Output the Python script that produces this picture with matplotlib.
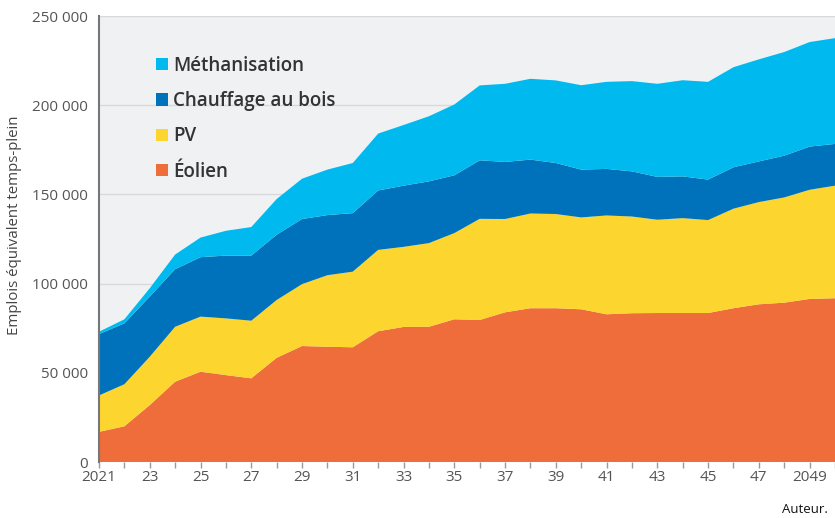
import numpy as np
import matplotlib
matplotlib.use("Agg")
from matplotlib import pyplot as plt
from matplotlib.patches import Patch

# années
years = list(range(2021, 2051))

# emplois par filière (ETP)
eolien = [16900, 20000, 31900, 45000, 50600, 48700, 46900, 58400, 65000, 64600,
          64300, 73300, 75700, 75800, 80000, 79600, 83900, 86200, 86200, 85600,
          82800, 83400, 83500, 83500, 83500, 86200, 88400, 89300, 91400, 91800]
pv = [20400, 23600, 27100, 30800, 30900, 31800, 32300, 32400, 34700, 40100,
      42400, 45600, 44900, 46900, 48300, 56700, 52300, 53100, 52800, 51500,
      55400, 54200, 52300, 53200, 52100, 55800, 57300, 59000, 61200, 63100]
chauffage = [34400, 34100, 33700, 32300, 33300, 35200, 36500, 36600, 36500, 33700,
             32800, 33300, 34300, 34600, 32400, 32800, 32000, 30200, 28600, 26800,
             26100, 25300, 24000, 23400, 22700, 23200, 22800, 23400, 24200, 23400]
methanisation = [1300, 2300, 4700, 8200, 11000, 13900, 16000, 20000, 22600, 25500,
                 28100, 31900, 34000, 36500, 39700, 42000, 43800, 45300, 46300, 47300,
                 48800, 50600, 52200, 53900, 54800, 56100, 57200, 58100, 58600, 59300]

labels = ["Éolien", "PV", "Chauffage au bois", "Méthanisation"]
colors = ["#EF6C3B", "#FDD52F", "#0072BB", "#00BAEF"]

y_ticks = [0, 50000, 100000, 150000, 200000, 250000]
y_ticklabels = ["0", "50 000", "100 000", "150 000", "200 000", "250 000"]

plt.rcParams['font.family'] = ['Open Sans', 'DejaVu Sans']

fig = plt.figure(figsize=(8.35, 5.18), dpi=100)
ax = fig.add_axes([99/835, 1 - 462/518, 1 - 99/835, (462 - 16)/518])
ax.set_facecolor("#F0F1F3")

ax.stackplot(years, eolien, pv, chauffage, methanisation,
             colors=colors, linewidth=0, zorder=2)

ax.set_xlim(2021, 2050)
ax.set_ylim(0, 250000)

ax.set_yticks(y_ticks)
ax.set_yticklabels(y_ticklabels)
ax.yaxis.grid(True, color="#D8D9DC", linewidth=1, zorder=1)
ax.set_axisbelow(True)
ax.tick_params(axis="y", length=0, pad=8, labelsize=11, labelcolor="#555555")

ax.set_xticks(years)
xlabels = []
for yr in years:
    if yr in (2021, 2049):
        xlabels.append(str(yr))
    elif yr % 2 == 1 and yr < 2049:
        xlabels.append(str(yr)[2:])
    else:
        xlabels.append("")
ax.set_xticklabels(xlabels)
ax.tick_params(axis="x", length=4, width=1, color="#999999", pad=2,
               labelsize=11, labelcolor="#555555")

for s in ["top", "right", "bottom"]:
    ax.spines[s].set_visible(False)
ax.spines["left"].set_color("#777777")
ax.spines["left"].set_linewidth(1.5)

ax.set_ylabel("Emplois équivalent temps-plein", fontsize=10.8, color="#444444")
ax.yaxis.set_label_coords(-0.104, 0.53)

handles = [Patch(facecolor=c, edgecolor="none") for c in colors]
leg = ax.legend(handles[::-1], labels[::-1], loc="upper left",
                bbox_to_anchor=(0.065, 0.932), frameon=False,
                prop={"size": 13.5, "weight": "semibold"},
                handlelength=0.65, handleheight=0.65,
                handletextpad=0.25, labelspacing=0.82, borderpad=0)
for t in leg.get_texts():
    t.set_color("#333333")

fig.text(0.992, 0.004, "Auteur.", ha="right", va="bottom", fontsize=9.5, color="#111111")

fig.savefig("out.png", dpi=100)
